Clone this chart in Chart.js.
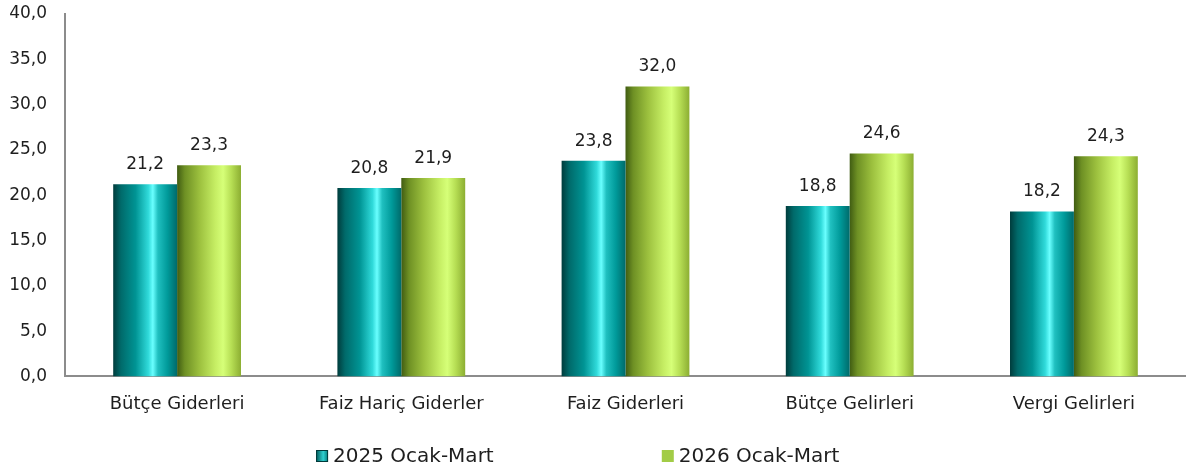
<!DOCTYPE html>
<html>
<head>
<meta charset="utf-8">
<script src="https://cdn.jsdelivr.net/npm/chart.js@4.4.1/dist/chart.umd.min.js"></script>
<style>
html,body{margin:0;padding:0;background:#fff;}
#wrap{width:1186px;height:471px;position:relative;}
</style>
</head>
<body>
<div id="wrap"><canvas id="c"></canvas></div>
<script>
const categories = ['Bütçe Giderleri','Faiz Hariç Giderler','Faiz Giderleri','Bütçe Gelirleri','Vergi Gelirleri'];
const series2025 = [21.2, 20.8, 23.8, 18.8, 18.2];
const series2026 = [23.3, 21.9, 32.0, 24.6, 24.3];
const seriesLabels = ['2025 Ocak-Mart', '2026 Ocak-Mart'];
const yMin = 0, yMax = 40, yStep = 5;

const FONT = 'DejaVu Sans';
const CAT_PCT = 0.57;

const stopsTeal = [[0,'#003c3c'],[0.12,'#006a6a'],[0.35,'#009494'],[0.55,'#30dada'],[0.62,'#6affff'],[0.7,'#20c0c0'],[0.85,'#009a9a'],[1,'#006a6a']];
const stopsGreen = [[0,'#405c12'],[0.12,'#6e9024'],[0.35,'#9cc03e'],[0.6,'#c6ee64'],[0.72,'#d6ff78'],[0.85,'#b6de54'],[1,'#8cae32']];

function fmt(v){ return Number(v).toFixed(1).replace('.', ','); }

function barGradient(ctx, stops, side){
  const chart = ctx.chart;
  if (ctx.type !== 'data' || !chart.chartArea) return stops[3][1];
  const xs = chart.scales.x;
  const cx = xs.getPixelForValue(ctx.dataIndex);
  const catW = (chart.chartArea.right - chart.chartArea.left) / categories.length;
  const bw = catW * CAT_PCT / 2;
  const left = side === 0 ? cx - bw : cx;
  const g = chart.ctx.createLinearGradient(left, 0, left + bw, 0);
  stops.forEach(s => g.addColorStop(s[0], s[1]));
  return g;
}

const valueLabels = {
  id: 'valueLabels',
  afterDatasetsDraw(chart){
    const c = chart.ctx;
    c.save();
    c.font = '17px "' + FONT + '"';
    c.fillStyle = '#1e1e1e';
    c.textAlign = 'center';
    c.textBaseline = 'bottom';
    chart.data.datasets.forEach((ds, i) => {
      chart.getDatasetMeta(i).data.forEach((bar, j) => {
        c.fillText(fmt(ds.data[j]), bar.x, bar.y - 11);
      });
    });
    c.restore();
  }
};

const bottomLegend = {
  id: 'bottomLegend',
  afterDraw(chart){
    const c = chart.ctx;
    c.save();
    c.font = '20px "' + FONT + '"';
    c.textBaseline = 'middle';
    c.textAlign = 'left';
    const box = 12, gapText = 5;
    const starts = [chart.width * 0.2665, chart.width * 0.558];
    const y = 456;
    chart.data.datasets.forEach((ds, i) => {
      const x = starts[i];
      if (i === 0) {
        const g = c.createLinearGradient(x, 0, x + box, 0);
        g.addColorStop(0, '#005858'); g.addColorStop(0.6, '#30d0d0'); g.addColorStop(1, '#007a7a');
        c.fillStyle = g;
        c.fillRect(x, y - box/2, box, box);
        c.strokeStyle = '#003a3a'; c.lineWidth = 1;
        c.strokeRect(x + 0.5, y - box/2 + 0.5, box - 1, box - 1);
      } else {
        c.fillStyle = '#a2cc46';
        c.fillRect(x, y - box/2, box, box);
      }
      c.fillStyle = '#1e1e1e';
      c.fillText(ds.label, x + box + gapText, y + 1);
    });
    c.restore();
  }
};

new Chart(document.getElementById('c'), {
  type: 'bar',
  data: {
    labels: categories,
    datasets: [
      { label: seriesLabels[0], data: series2025, backgroundColor: ctx => barGradient(ctx, stopsTeal, 0), borderWidth: 0 },
      { label: seriesLabels[1], data: series2026, backgroundColor: ctx => barGradient(ctx, stopsGreen, 1), borderWidth: 0 }
    ]
  },
  options: {
    responsive: true,
    maintainAspectRatio: false,
    animation: false,
    datasets: { bar: { categoryPercentage: CAT_PCT, barPercentage: 1.0 } },
    layout: { padding: { top: 14, right: 0, left: 0, bottom: 39 } },
    plugins: { legend: { display: false }, tooltip: { enabled: false } },
    scales: {
      x: {
        grid: { display: false, drawTicks: false },
        border: { display: true, color: '#8c8c8c', width: 2 },
        ticks: { color: '#1e1e1e', font: { family: FONT, size: 18 }, padding: 17, maxRotation: 0 }
      },
      y: {
        min: yMin, max: yMax,
        grid: { display: false, drawTicks: false },
        border: { display: true, color: '#8c8c8c', width: 2 },
        ticks: { stepSize: yStep, color: '#1e1e1e', font: { family: FONT, size: 17 }, padding: 18, callback: v => fmt(v) },
        afterFit(scale){ scale.width = 65; scale.paddingTop = 0; scale.paddingBottom = 0; }
      }
    }
  },
  plugins: [valueLabels, bottomLegend]
});
</script>
</body>
</html>
